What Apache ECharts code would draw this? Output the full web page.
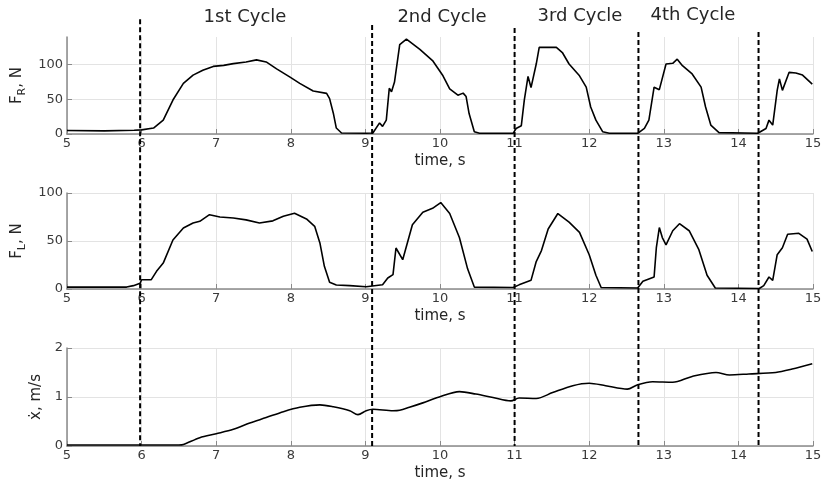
<!DOCTYPE html>
<html>
<head>
<meta charset="utf-8">
<script src="https://cdn.jsdelivr.net/npm/echarts@6/dist/echarts.min.js"></script>
<style>html,body{margin:0;padding:0;background:#fff}#c{width:826px;height:492px}</style>
</head>
<body>
<div id="c"></div>
<script>
// ---- data ----
var tR = [5.0,5.5,5.9,6.0,6.16,6.29,6.42,6.56,6.69,6.82,6.96,7.1,7.23,7.4,7.54,7.67,7.81,7.99,8.12,8.3,8.48,8.52,8.57,8.61,8.68,9.01,9.1,9.19,9.23,9.28,9.32,9.35,9.39,9.46,9.55,9.73,9.9,10.04,10.13,10.24,10.31,10.35,10.39,10.46,10.53,10.98,11.02,11.09,11.13,11.18,11.22,11.29,11.33,11.42,11.56,11.64,11.73,11.87,11.96,12.02,12.09,12.18,12.27,12.65,12.74,12.8,12.87,12.94,13.03,13.12,13.18,13.25,13.38,13.5,13.56,13.63,13.74,14.26,14.37,14.41,14.46,14.52,14.55,14.59,14.68,14.77,14.86,14.99];
var fR = [5,4.5,5.5,6,8.6,20,49,73,85,92,97.6,99,101.6,104,107,104,94,82,73,62,58.6,51,30,8.6,1.4,1,1.5,16,11,20,66,61,75,129,137,122,106,84,65,56,59,54,29.5,3.3,1,1,8,12,49,83,67,101,125,125,125,117.6,101,84,67.6,39,20,3.3,1,1,8,20,67.6,64,101,102,108,98.6,86.7,67.6,39,12.9,2,1,8,20,12.9,63,79.5,63,89,88,85,72];

var tL = [5.0,5.8,5.89,5.98,6.0,6.13,6.2,6.29,6.42,6.56,6.69,6.78,6.91,7.05,7.23,7.4,7.58,7.76,7.9,8.05,8.21,8.32,8.39,8.45,8.52,8.61,8.79,9.01,9.23,9.3,9.37,9.41,9.5,9.63,9.77,9.9,10.01,10.13,10.26,10.37,10.46,10.98,11.0,11.06,11.22,11.24,11.29,11.36,11.45,11.58,11.73,11.87,12.0,12.09,12.16,12.65,12.72,12.87,12.9,12.94,12.98,13.03,13.12,13.21,13.34,13.47,13.58,13.69,14.28,14.34,14.41,14.46,14.52,14.59,14.66,14.81,14.92,14.99];
var fL = [2,2,3.5,6,9.7,9.7,18.4,27,51,63.5,68.7,70.5,77.4,75,74,72,68.7,71,75.7,79,73,65.3,48,23.6,7,4.2,3.5,2.4,4.5,11.5,15,42.7,30.5,67,80,84,90,78.6,53.6,21,2,1.5,1,4.3,9,10.7,28.6,40,62.5,78.6,69.6,59,35.7,14.3,1.5,1,8,12.5,43,64,53.6,46,60.7,68,60.7,41,14.3,1,0.5,3.6,12.5,9,35.7,43,57,58,52,39];

var tV = [5.0,6.0,6.5,6.56,6.78,7.0,7.23,7.45,7.67,7.9,8.12,8.39,8.57,8.79,8.9,9.01,9.1,9.37,9.46,9.59,9.77,9.99,10.26,10.48,10.71,10.95,11.06,11.29,11.51,11.78,12.0,12.22,12.51,12.65,12.85,13.12,13.38,13.7,13.88,14.14,14.5,14.72,14.99];
var vel = [0.02,0.02,0.02,0.03,0.17,0.25,0.34,0.47,0.58,0.70,0.79,0.84,0.80,0.72,0.64,0.72,0.75,0.72,0.73,0.79,0.88,1.0,1.11,1.06,0.99,0.92,0.98,0.97,1.09,1.23,1.28,1.23,1.16,1.25,1.31,1.30,1.42,1.50,1.45,1.47,1.50,1.57,1.68];

var cycleTimes = [5.98, 9.09, 11.0, 12.66, 14.27];
var cycleTops = [0.957, 0.944, 0.937, 0.928, 0.928];   // fraction of overlay height
var cycleLabels = ['1st Cycle', '2nd Cycle', '3rd Cycle', '4th Cycle'];
var xTicks = [5, 15, 1];

function zip(a, b) { return a.map(function (v, i) { return [v, b[i]]; }); }

var FONT = 'DejaVu Sans';
var TXT = '#262626';
var TICK = '#3a3a3a';
var AX = '#8a8a8a';

function xAxis(gi, showName) {
  return {
    type: 'value', gridIndex: gi, min: xTicks[0], max: xTicks[1], interval: xTicks[2],
    name: showName ? 'time, s' : '', nameLocation: 'middle', nameGap: 20,
    nameTextStyle: { fontFamily: FONT, fontSize: 15, color: TXT },
    axisLine: { show: true, onZero: false, lineStyle: { color: AX, width: 1.5 } },
    axisTick: { show: true, inside: true, length: 5, lineStyle: { color: AX } },
    axisLabel: { fontFamily: FONT, fontSize: 13, color: TICK, margin: 3 },
    splitLine: { show: true, lineStyle: { color: '#e3e3e3', width: 1 } }
  };
}
function yAxis(gi, max, interval, nameRich, gap, hideMax) {
  return {
    type: 'value', gridIndex: gi, min: 0, max: max, interval: interval,
    name: nameRich.text, nameLocation: 'middle', nameGap: gap,
    nameTextStyle: { fontFamily: FONT, fontSize: 15, color: TXT, rich: nameRich.rich },
    axisLine: { show: true, lineStyle: { color: AX, width: 1.5 } },
    axisTick: { show: true, inside: true, length: 5, lineStyle: { color: AX } },
    axisLabel: { fontFamily: FONT, fontSize: 13, color: TICK, margin: 4, showMaxLabel: !hideMax },
    splitLine: { show: true, showMaxLine: !hideMax, lineStyle: { color: '#e3e3e3', width: 1 } }
  };
}
var richBase = {
  m: { fontFamily: FONT, fontSize: 15, color: TXT },
  s: { fontFamily: FONT, fontSize: 11, color: TXT, padding: [9, 0, 0, 0] }
};

var lineStyle = { color: '#000', width: 1.6 };

var series = [
  { type: 'line', xAxisIndex: 0, yAxisIndex: 0, data: zip(tR, fR), showSymbol: false, lineStyle: lineStyle, z: 3 },
  { type: 'line', xAxisIndex: 1, yAxisIndex: 1, data: zip(tL, fL), showSymbol: false, lineStyle: lineStyle, z: 3 },
  { type: 'line', xAxisIndex: 2, yAxisIndex: 2, data: zip(tV, vel), showSymbol: false, smooth: 0.3, lineStyle: lineStyle, z: 3 }
];
cycleTimes.forEach(function (t, i) {
  series.push({
    type: 'line', xAxisIndex: 3, yAxisIndex: 3, data: [[t, cycleTops[i]], [t, 0]],
    showSymbol: false, silent: true, z: 5,
    lineStyle: { color: '#000', width: 2, type: [5, 3] }
  });
});

var chart = echarts.init(document.getElementById('c'), null, { renderer: 'canvas' });
chart.setOption({
  animation: false,
  backgroundColor: '#fff',
  grid: [
    { left: 67, right: 13, top: 37, height: 97 },
    { left: 67, right: 13, top: 193, height: 96 },
    { left: 67, right: 13, top: 348, height: 98 },
    { left: 67, right: 13, top: 0, height: 446 }
  ],
  xAxis: [
    xAxis(0, true), xAxis(1, true), xAxis(2, true),
    { type: 'value', gridIndex: 3, min: 5, max: 15, show: false }
  ],
  yAxis: [
    yAxis(0, 140, 50, { text: '{m|F}{s|R}{m|, N}', rich: richBase }, 39, true),
    yAxis(1, 100, 50, { text: '{m|F}{s|L}{m|, N}', rich: richBase }, 35, false),
    yAxis(2, 2, 1, { text: '{m|ẋ, m/s}', rich: richBase }, 15, false),
    { type: 'value', gridIndex: 3, min: 0, max: 1, show: false }
  ],
  graphic: [
    { type: 'text', x: 245, y: 17, style: { text: cycleLabels[0], font: '18px "DejaVu Sans"', fill: TXT, textAlign: 'center', textVerticalAlign: 'middle' } },
    { type: 'text', x: 442, y: 17, style: { text: cycleLabels[1], font: '18px "DejaVu Sans"', fill: TXT, textAlign: 'center', textVerticalAlign: 'middle' } },
    { type: 'text', x: 580, y: 16, style: { text: cycleLabels[2], font: '18px "DejaVu Sans"', fill: TXT, textAlign: 'center', textVerticalAlign: 'middle' } },
    { type: 'text', x: 693, y: 15, style: { text: cycleLabels[3], font: '18px "DejaVu Sans"', fill: TXT, textAlign: 'center', textVerticalAlign: 'middle' } }
  ],
  series: series
});
</script>
</body>
</html>
